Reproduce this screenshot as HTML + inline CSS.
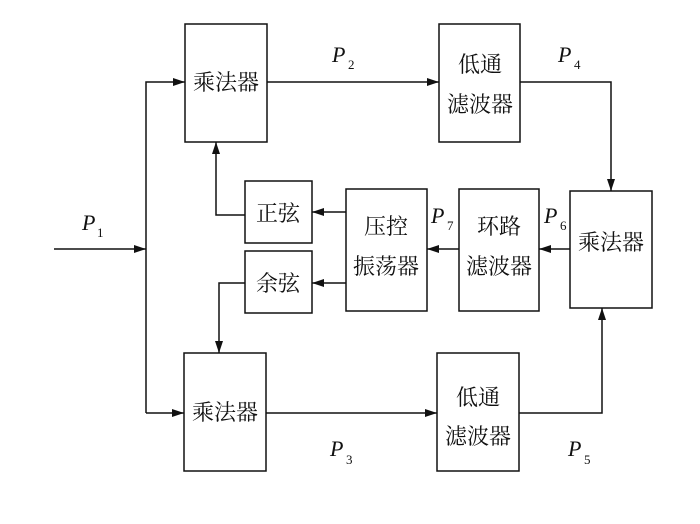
<!DOCTYPE html>
<html><head><meta charset="utf-8"><style>
html,body{margin:0;padding:0;background:#fff;}
svg{display:block;}
.c{font-family:"Liberation Serif","Noto Serif CJK SC","Noto Sans CJK SC",serif;font-size:22px;fill:#111;}
.p{font-family:"Liberation Serif",serif;font-style:italic;font-size:22px;fill:#111;}
.s{font-family:"Liberation Serif",serif;font-size:13px;fill:#111;}
</style></head><body>
<svg width="700" height="524" viewBox="0 0 700 524" xmlns="http://www.w3.org/2000/svg">
<defs><marker id="a" markerWidth="12" markerHeight="8" refX="12" refY="4" orient="auto" markerUnits="userSpaceOnUse"><path d="M0,0 L12,4 L0,8 Z" fill="#111"/></marker></defs>
<g fill="none" stroke="#111" stroke-width="1.5">
<rect x="185" y="24" width="82" height="118"/>
<rect x="439" y="24" width="81" height="118"/>
<rect x="245" y="181" width="67" height="62"/>
<rect x="245" y="251" width="67" height="62"/>
<rect x="346" y="189" width="81" height="122"/>
<rect x="459" y="189" width="80" height="122"/>
<rect x="570" y="191" width="82" height="117"/>
<rect x="184" y="353" width="82" height="118"/>
<rect x="437" y="353" width="82" height="118"/>
<line x1="54" y1="249" x2="146" y2="249" marker-end="url(#a)"/>
<polyline points="146,413 146,82 185,82" marker-end="url(#a)"/>
<line x1="146" y1="413" x2="184" y2="413" marker-end="url(#a)"/>
<line x1="267" y1="82" x2="439" y2="82" marker-end="url(#a)"/>
<polyline points="520,82 611,82 611,191" marker-end="url(#a)"/>
<line x1="570" y1="249" x2="539" y2="249" marker-end="url(#a)"/>
<line x1="459" y1="249" x2="427" y2="249" marker-end="url(#a)"/>
<line x1="346" y1="212" x2="312" y2="212" marker-end="url(#a)"/>
<line x1="346" y1="283" x2="312" y2="283" marker-end="url(#a)"/>
<polyline points="245,215 216,215 216,142" marker-end="url(#a)"/>
<polyline points="245,283 219,283 219,353" marker-end="url(#a)"/>
<line x1="266" y1="413" x2="437" y2="413" marker-end="url(#a)"/>
<polyline points="519,413 602,413 602,308" marker-end="url(#a)"/>
</g>
<text class="c" x="226" y="90" text-anchor="middle">乘法器</text>
<text class="c" x="480" y="72" text-anchor="middle">低通</text>
<text class="c" x="480" y="112" text-anchor="middle">滤波器</text>
<text class="c" x="278" y="221" text-anchor="middle">正弦</text>
<text class="c" x="278" y="291" text-anchor="middle">余弦</text>
<text class="c" x="386" y="234" text-anchor="middle">压控</text>
<text class="c" x="386" y="274" text-anchor="middle">振荡器</text>
<text class="c" x="499" y="234" text-anchor="middle">环路</text>
<text class="c" x="499" y="274" text-anchor="middle">滤波器</text>
<text class="c" x="611" y="250" text-anchor="middle">乘法器</text>
<text class="c" x="225" y="420" text-anchor="middle">乘法器</text>
<text class="c" x="478" y="405" text-anchor="middle">低通</text>
<text class="c" x="478" y="444" text-anchor="middle">滤波器</text>
<text class="p" x="82" y="230">P</text><text class="s" x="97" y="237">1</text>
<text class="p" x="332" y="62">P</text><text class="s" x="348" y="69">2</text>
<text class="p" x="558" y="62">P</text><text class="s" x="574" y="69">4</text>
<text class="p" x="330" y="456">P</text><text class="s" x="346" y="464">3</text>
<text class="p" x="568" y="456">P</text><text class="s" x="584" y="464">5</text>
<text class="p" x="431" y="223">P</text><text class="s" x="447" y="230">7</text>
<text class="p" x="544" y="223">P</text><text class="s" x="560" y="230">6</text>
</svg>
</body></html>
